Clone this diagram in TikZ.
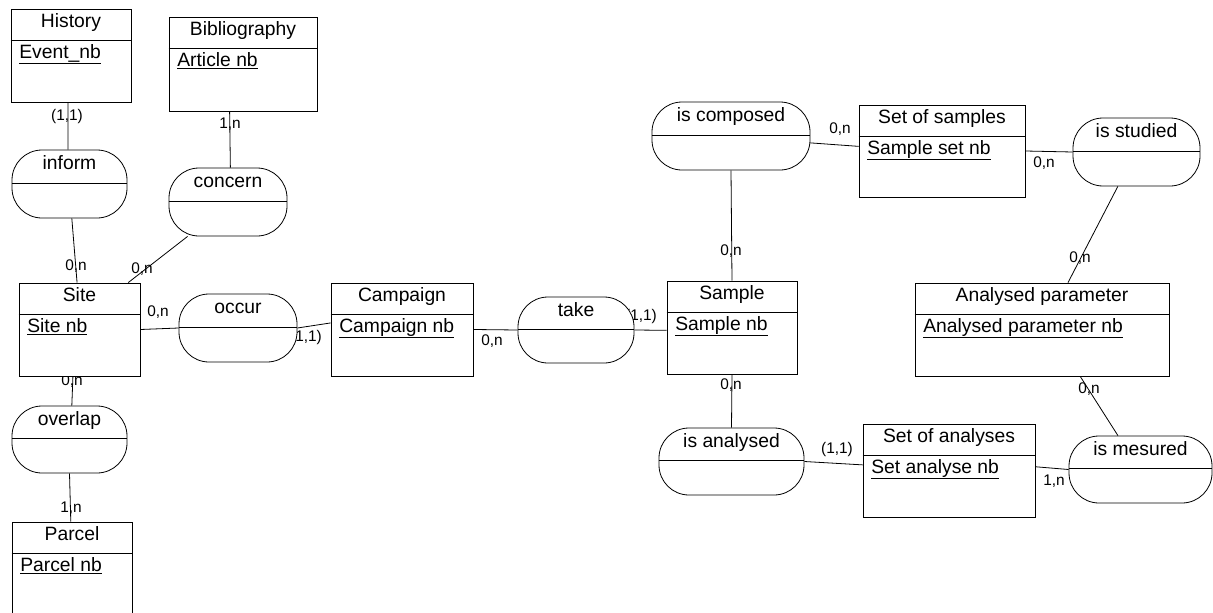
\documentclass[tikz,border=0pt]{standalone}
\usepackage{fontspec}
\setmainfont{Liberation Sans}
\usetikzlibrary{calc,fit}
\pgfdeclarelayer{background}
\pgfsetlayers{background,main}
\tikzset{
  erline/.style={draw=black, line width=0.8pt},
  entbox/.style={erline, fill=white, inner sep=0pt},
  relbox/.style={erline, fill=white, inner sep=0pt, rounded corners=30pt},
  title/.style={font=\fontsize{19.3}{23}\selectfont, inner sep=0pt, text height=0.72em, text depth=0pt},
  keytext/.style={font=\fontsize{19.3}{23}\selectfont, inner sep=0pt, text height=0.72em, text depth=0pt, anchor=west},
  card/.style={font=\fontsize{15.4}{18}\selectfont, inner sep=0pt, text height=0.72em, text depth=0pt},
  conn/.style={erline}
}
% name, x1, y1, x2, y2, title, key
\newcommand{\erEntity}[7]{%
  \node[entbox, fit={(#2,#3) (#4,#5)}] (#1) {};
  \draw[erline] ($(#1.north west)+(0,31.5)$) -- ($(#1.north east)+(0,31.5)$);
  \node[title] at ($(#1.north)+(0,15.5)$) {#6};
  \node[keytext] at ($(#1.north west)+(8.5,46)$) {\underline{#7}};
}
% name, x1, y1, x2, y2, text
\newcommand{\erRel}[6]{%
  \node[relbox, fit={(#2,#3) (#4,#5)}] (#1) {};
  \draw[erline] ($(#1.west)+(0,-1)$) -- ($(#1.east)+(0,-1)$);
  \node[title] at ($(#1.north)+(0,16.5)$) {#6};
}
\begin{document}
\begin{tikzpicture}[x=1pt,y=-1pt]
\useasboundingbox (0,0) rectangle (1213,613);
\clip (0,0) rectangle (1213,613);

% entities
\erEntity{history}{11}{9}{131}{102}{History}{Event\_nb}
\erEntity{biblio}{169}{17}{317}{111}{Bibliography}{Article nb}
\erEntity{site}{19}{283}{140}{376}{Site}{Site nb}
\erEntity{campaign}{331}{283}{473}{376}{Campaign}{Campaign nb}
\erEntity{parcel}{12}{522}{132}{640}{Parcel}{Parcel nb}
\erEntity{sample}{667}{281}{797}{374}{Sample}{Sample nb}
\erEntity{setsamples}{859}{105}{1025}{197}{Set of samples}{Sample set nb}
\erEntity{analysed}{915}{283}{1169}{376}{Analysed parameter}{Analysed parameter nb}
\erEntity{setanalyses}{863}{424}{1035}{517}{Set of analyses}{Set analyse nb}

% relationships
\erRel{inform}{12}{150}{127}{218}{inform}
\erRel{concern}{169}{168}{287}{236}{concern}
\erRel{occur}{179}{294}{297}{362}{occur}
\erRel{overlap}{12}{406}{127}{473}{overlap}
\erRel{take}{518}{297}{634}{363}{take}
\erRel{iscomposed}{652}{102}{810}{170}{is composed}
\erRel{isstudied}{1073}{118}{1200}{186}{is studied}
\erRel{isanalysed}{659}{428}{804}{495}{is analysed}
\erRel{ismesured}{1069}{436}{1212}{503}{is mesured}

\begin{pgfonlayer}{background}
% connectors
\draw[conn] ($(history.south west)!0.475!(history.south east)$) -- ($(inform.north west)!0.487!(inform.north east)$);
\draw[conn] ($(inform.south west)!0.52!(inform.south east)$) -- ($(site.north west)!0.48!(site.north east)$);
\draw[conn] ($(biblio.south west)!0.41!(biblio.south east)$) -- ($(concern.north west)!0.52!(concern.north east)$);
\draw[conn] ($(concern.south west)!0.16!(concern.south east)$) -- ($(site.north west)!0.9!(site.north east)$);
\draw[conn] (site.east) -- (occur.west);
\draw[conn] (occur.east) -- ($(campaign.north west)!0.43!(campaign.south west)$);
\draw[conn] (campaign.east) -- (take.west);
\draw[conn] (take.east) -- ($(sample.north west)!0.53!(sample.south west)$);
\draw[conn] (iscomposed.south) -- (sample.north);
\draw[conn] ($(iscomposed.north east)!0.6!(iscomposed.south east)$) -- ($(setsamples.north west)!0.45!(setsamples.south west)$);
\draw[conn] (setsamples.east) -- (isstudied.west);
\draw[conn] ($(isstudied.south west)!0.354!(isstudied.south east)$) -- ($(analysed.north west)!0.602!(analysed.north east)$);
\draw[conn] (sample.south) -- (isanalysed.north);
\draw[conn] (isanalysed.east) -- ($(setanalyses.north west)!0.44!(setanalyses.south west)$);
\draw[conn] ($(setanalyses.north east)!0.46!(setanalyses.south east)$) -- ($(ismesured.north west)!0.5!(ismesured.south west)$);
\draw[conn] ($(analysed.south west)!0.65!(analysed.south east)$) -- ($(ismesured.north west)!0.343!(ismesured.north east)$);
\draw[conn] ($(site.south west)!0.446!(site.south east)$) -- ($(overlap.north west)!0.52!(overlap.north east)$);
\draw[conn] ($(overlap.south west)!0.5!(overlap.south east)$) -- ($(parcel.north west)!0.49!(parcel.north east)$);

% cardinalities
\node[card] (c1) at (67,117) {(1,1)};
\node[card] (c2) at (76,267) {0,n};
\node[card] (c3) at (230,125) {1,n};
\node[card] (c4) at (142,270) {0,n};
\node[card] (c5) at (158,313) {0,n};
\node[card] (c6) at (306,338) {(1,1)};
\node[card] (c7) at (492,342) {0,n};
\node[card] (c8) at (641,317) {(1,1)};
\node[card] (c9) at (731,252) {0,n};
\node[card] (c10) at (840,130) {0,n};
\node[card] (c11) at (1044,164) {0,n};
\node[card] (c12) at (1080,259) {0,n};
\node[card] (c13) at (731,386) {0,n};
\node[card] (c14) at (837,450) {(1,1)};
\node[card] (c15) at (1054,482) {1,n};
\node[card] (c16) at (1089,390) {0,n};
\node[card] (c17) at (72,382) {0,n};
\node[card] (c18) at (71,509) {1,n};
\end{pgfonlayer}
\end{tikzpicture}
\end{document}
